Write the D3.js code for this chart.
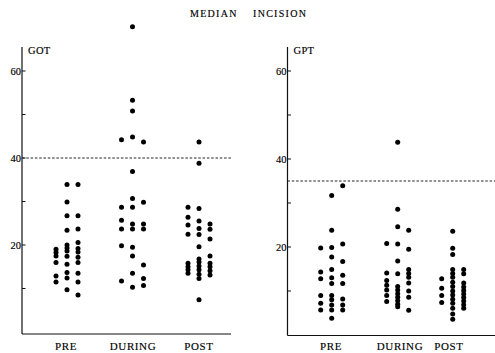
<!DOCTYPE html>
<html>
<head>
<meta charset="utf-8">
<script src="https://cdn.jsdelivr.net/npm/d3@7"></script>
<style>
  body { margin: 0; background: #fff; }
  text { font-family: "Liberation Serif", "DejaVu Serif", serif; fill: #000; stroke: #000; stroke-width: 0.15px; }
</style>
</head>
<body>
<svg id="chart" width="495" height="353"></svg>
<script>
// categories and scale ticks
const groups = ["PRE", "DURING", "POST"]
const yTicks = [10, 20, 30, 40, 50, 60]
const yLabels = [20, 40, 60]

// GOT values, three dot columns per group
const gotPre = [
	[19.0, 18.3, 17.5, 16.0, 12.9, 11.5],
	[33.9, 29.9, 26.7, 23.4, 20.0, 19.3, 18.6, 17.4, 15.6, 13.7, 12.4, 9.7],
	[33.9, 26.7, 23.7, 20.6, 19.2, 18.4, 17.2, 16.0, 13.5, 11.5, 8.5],
]
const gotDuring = [
	[44.2, 28.7, 25.7, 23.7, 19.8, 11.7],
	[70.2, 53.3, 50.8, 44.8, 36.9, 30.7, 28.7, 24.8, 23.7, 19.5, 17.5, 13.5, 10.3],
	[43.7, 29.8, 24.8, 23.7, 15.4, 12.3, 10.7],
]
const gotPost = [
	[28.7, 26.4, 24.6, 22.5, 15.8, 15.0, 14.3, 13.5],
	[43.7, 38.8, 28.4, 25.5, 23.8, 22.4, 19.6, 16.8, 16.1, 15.2, 14.3, 13.3, 12.3, 7.4],
	[24.8, 23.6, 21.4, 17.5, 15.8, 15.0, 14.1, 13.1],
]

// GPT values
const gptPre = [
	[19.8, 14.3, 12.8, 9.0, 7.2, 5.7],
	[31.7, 23.8, 19.9, 17.7, 14.9, 13.0, 11.7, 9.0, 8.0, 6.8, 5.7, 3.8],
	[33.9, 20.7, 16.7, 13.6, 11.7, 8.2, 6.8, 5.7],
]
const gptDuring = [
	[20.8, 14.1, 12.4, 11.3, 10.2, 9.0, 7.6],
	[43.8, 28.6, 24.6, 20.7, 16.8, 13.9, 11.0, 10.2, 9.4, 8.6, 7.8, 7.0, 6.4],
	[23.8, 19.5, 14.9, 14.0, 13.1, 11.8, 10.0, 8.6, 5.6],
]
const gptPost = [
	[12.8, 10.6, 9.0, 7.4],
	[23.6, 19.7, 18.3, 14.9, 14.0, 13.1, 12.0, 11.0, 10.0, 9.1, 8.1, 7.2, 6.1, 4.8, 3.6],
	[14.9, 13.9, 11.8, 10.9, 10.1, 9.3, 8.5, 7.7, 6.9, 6.1],
]

// upper normal limits (dashed lines)
const gotLimit = 40
const gptLimit = 35

const panels = [
	{ name: "GOT", data: [gotPre, gotDuring, gotPost], limit: gotLimit,
		axisX: 22, right: 231, top: 47, bottom: 334, y0: 332,
		centers: [67, 132.5, 199], labelX: [66, 133, 199] },
	{ name: "GPT", data: [gptPre, gptDuring, gptPost], limit: gptLimit,
		axisX: 287.5, right: 495, top: 47, bottom: 335.5, y0: 335,
		centers: [331.7, 397.7, 452.7], labelX: [331, 400, 449] },
]

const svg = d3.select("#chart")

svg.append("text").attr("x", 190).attr("y", 17)
	.attr("font-size", 10).attr("letter-spacing", 1.3).text("MEDIAN")
svg.append("text").attr("x", 253).attr("y", 17)
	.attr("font-size", 10).attr("letter-spacing", 1.3).text("INCISION")

const col = d3.scalePoint().domain([0, 1, 2]).range([-11, 11])

panels.forEach(p => {
	const y = d3.scaleLinear().domain([0, 60]).range([p.y0, 71])
	const x = d3.scaleOrdinal().domain(groups).range(p.centers)
	const g = svg.append("g")

	// y axis line with inward ticks
	g.append("line")
		.attr("x1", p.axisX).attr("x2", p.axisX)
		.attr("y1", p.top).attr("y2", p.bottom)
		.attr("stroke", "#111").attr("stroke-width", 1.2)
	g.selectAll(".tick").data(yTicks).join("line")
		.attr("x1", p.axisX).attr("x2", p.axisX + 3.5)
		.attr("y1", d => y(d)).attr("y2", d => y(d))
		.attr("stroke", "#111").attr("stroke-width", 1)
	g.selectAll(".tl").data(yLabels).join("text")
		.attr("x", p.axisX - 1).attr("y", d => y(d) + 3.5)
		.attr("text-anchor", "end").attr("font-size", 10.5)
		.text(d => d)

	// bottom line
	g.append("line")
		.attr("x1", p.axisX).attr("x2", p.right)
		.attr("y1", p.bottom).attr("y2", p.bottom)
		.attr("stroke", "#111").attr("stroke-width", 1.2)

	g.append("text").attr("x", p.axisX + 6).attr("y", 54)
		.attr("font-size", 10.5).attr("letter-spacing", 0.3).text(p.name)

	// limit line
	g.append("line")
		.attr("x1", p.axisX).attr("x2", p.right)
		.attr("y1", y(p.limit)).attr("y2", y(p.limit))
		.attr("stroke", "#222").attr("stroke-width", 1)
		.attr("stroke-dasharray", "2.5,1.8")

	// dots
	groups.forEach((grp, gi) => {
		p.data[gi].forEach((vals, ci) => {
			g.selectAll(null).data(vals).join("circle")
				.attr("cx", x(grp) + col(ci))
				.attr("cy", d => y(d))
				.attr("r", 2.5)
				.attr("fill", "#000")
		})
	})

	// group labels
	g.selectAll(".gl").data(groups).join("text")
		.attr("x", (d, i) => p.labelX[i]).attr("y", 350)
		.attr("text-anchor", "middle").attr("font-size", 11)
		.attr("letter-spacing", 0.6)
		.text(d => d)
})
</script>
</body>
</html>
